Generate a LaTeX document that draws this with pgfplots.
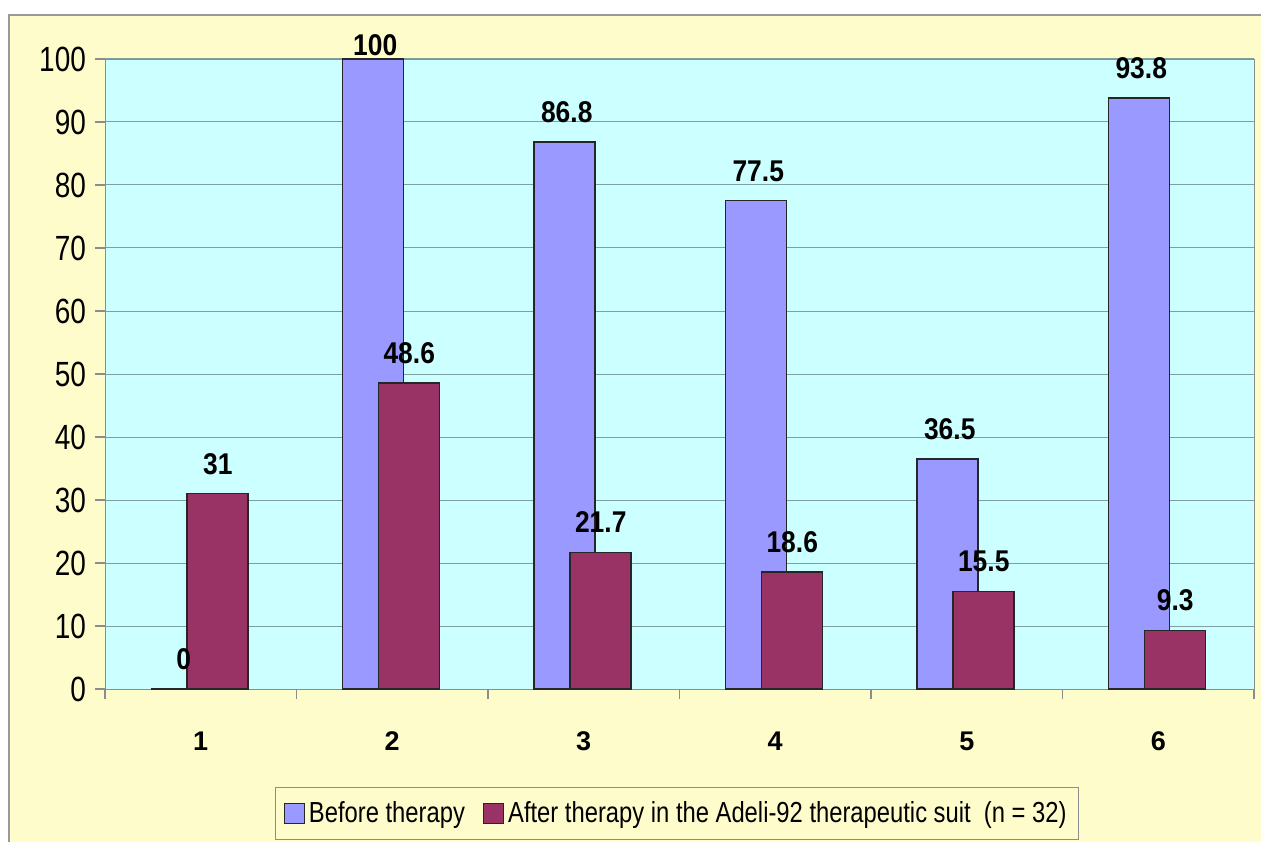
\documentclass[border=0pt]{standalone}
\usepackage{pgfplots}
\pgfplotsset{compat=1.18}
\usepackage{fontspec}
\setmainfont{Liberation Sans}
\newfontfamily\narrowfont[FakeStretch=0.88]{Liberation Sans}
\newfontfamily\legendfont[FakeStretch=0.82]{Liberation Sans}
\newfontfamily\ytickfont[FakeStretch=0.8]{Liberation Sans}
\definecolor{bgyellow}{RGB}{255,252,204}
\definecolor{plotcyan}{RGB}{204,255,255}
\definecolor{barblue}{RGB}{153,153,255}
\definecolor{barmaroon}{RGB}{153,51,102}
\definecolor{gridc}{RGB}{128,160,160}
\begin{document}
\begin{tikzpicture}
\path[use as bounding box] (0,0) rectangle (630.5pt,420.5pt);
\fill[white] (0,0) rectangle (630.5pt,420.5pt);
\filldraw[fill=bgyellow, draw=gray!80, line width=0.8pt] (4.5pt,-10pt) rectangle (640pt,413pt);
\begin{axis}[
  at={(52.5pt,76pt)}, anchor=south west, scale only axis,
  width=574.5pt, height=315pt,
  xmin=0.5, xmax=6.5, ymin=0, ymax=100,
  axis background/.style={fill=plotcyan},
  axis line style={draw=gray!90},
  ytick={0,10,...,100},
  ymajorgrids, major grid style={draw=gridc, line width=0.5pt},
  xtick={1,2,3,4,5,6}, xticklabels={1,2,3,4,5,6},
  minor xtick={0.5,1.5,...,6.5},
  tick align=outside, xtick pos=bottom, ytick pos=left,
  major tick length=5pt, minor tick length=5pt,
  major x tick style={draw=none},
  minor x tick style={draw=gray!90, line width=0.6pt},
  ytick style={draw=gray!90, line width=0.6pt},
  /pgf/number format/assume math mode=true,
  yticklabel style={font=\ytickfont\fontsize{17.5}{19}\selectfont, xshift=-1pt},
  xticklabel style={font=\bfseries\fontsize{13.5}{15}\selectfont, yshift=-13pt},
  legend columns=2,
  legend style={at={(0.498,-0.198)}, anchor=center, draw=gray!90, fill=bgyellow,
    font=\legendfont\fontsize{14.5}{16}\selectfont, inner xsep=4pt, inner ysep=5pt,
    /tikz/every even column/.append style={column sep=7pt}},
  legend cell align=left,
  nodes near coords,
  every node near coord/.append style={font=\narrowfont\bfseries\fontsize{15}{17}\selectfont},
]
\addplot[ybar, bar width=0.3185, bar shift=-0.10, fill=barblue, draw=black!85, line width=0.7pt,
  visualization depends on={rawy \as \rawy},
  every node near coord/.append style={xshift=-8.5pt, yshift={ifthenelse(\rawy>99,-2,6)}},
  legend image code/.code={\draw[fill=barblue, draw=black!85, line width=0.6pt] (0pt,-5pt) rectangle (10pt,5pt);}]
  coordinates {(1,0) (2,100) (3,86.8) (4,77.5) (5,36.5) (6,93.8)};
\addlegendentry{Before therapy}
\addplot[ybar, bar width=0.3185, bar shift=0.088, fill=barmaroon, draw=black!85, line width=0.7pt,
  every node near coord/.append style={xshift=8.5pt, yshift=6pt},
  legend image code/.code={\draw[fill=barmaroon, draw=black!85, line width=0.6pt] (0pt,-5pt) rectangle (10pt,5pt);}]
  coordinates {(1,31) (2,48.6) (3,21.7) (4,18.6) (5,15.5) (6,9.3)};
\addlegendentry{After therapy in the Adeli-92 therapeutic suit\ \ (n = 32)}
\end{axis}
\end{tikzpicture}
\end{document}
